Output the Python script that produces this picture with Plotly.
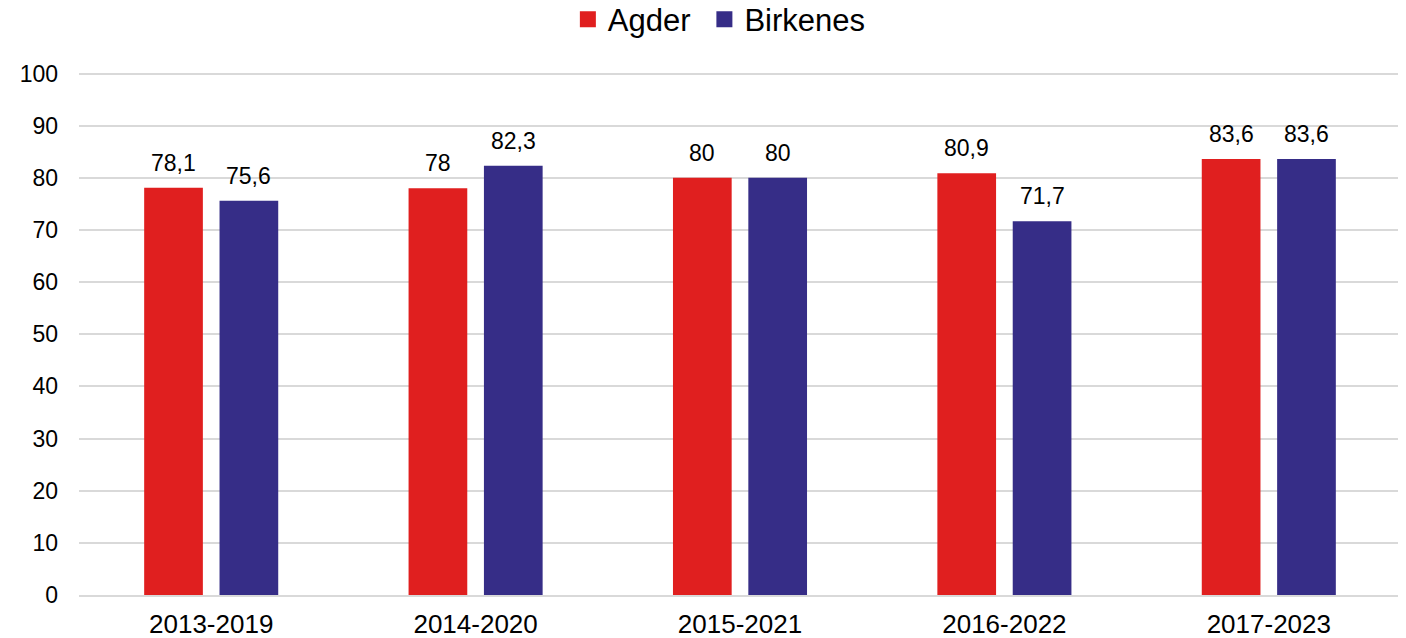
import plotly.graph_objects as go

categories = ["2013-2019", "2014-2020", "2015-2021", "2016-2022", "2017-2023"]
agder = [78.1, 78, 80, 80.9, 83.6]
birkenes = [75.6, 82.3, 80, 71.7, 83.6]
agder_labels = ["78,1", "78", "80", "80,9", "83,6"]
birkenes_labels = ["75,6", "82,3", "80", "71,7", "83,6"]
y_ticks = list(range(0, 101, 10))

FONT = "Liberation Sans, Arial, sans-serif"
RED = "#E01F1F"
BLUE = "#362D87"

fig = go.Figure()
fig.add_trace(go.Bar(name="Agder", x=categories, y=agder,
                     marker=dict(color=RED, line=dict(width=0)), showlegend=False))
fig.add_trace(go.Bar(name="Birkenes", x=categories, y=birkenes,
                     marker=dict(color=BLUE, line=dict(width=0)), showlegend=False))
# legend entries with larger square swatches
for name, col, lg in [("Agder", RED, "legend"), ("Birkenes", BLUE, "legend2")]:
    fig.add_trace(go.Scatter(name=name, x=[None], y=[None], mode="markers",
                             marker=dict(symbol="square", size=17, color=col),
                             showlegend=True, legend=lg))

annotations = []
for cat, v, lab in zip(categories, agder, agder_labels):
    annotations.append(dict(x=cat, y=v, text=lab, xshift=-37.7, yshift=10,
                            showarrow=False, yanchor="bottom", xanchor="center",
                            font=dict(size=23, family=FONT, color="#000000")))
for cat, v, lab in zip(categories, birkenes, birkenes_labels):
    annotations.append(dict(x=cat, y=v, text=lab, xshift=37.7, yshift=10,
                            showarrow=False, yanchor="bottom", xanchor="center",
                            font=dict(size=23, family=FONT, color="#000000")))

legend_common = dict(orientation="h", xanchor="left", y=1.152, yanchor="top",
                     yref="paper", xref="container", font=dict(size=31, family=FONT),
                     itemsizing="trace", bgcolor="rgba(0,0,0,0)")

fig.update_layout(
    width=1406, height=638,
    margin=dict(l=71, r=13, t=64, b=51, autoexpand=False),
    paper_bgcolor="white", plot_bgcolor="white",
    barmode="group", bargap=0.43, bargroupgap=0.221,
    font=dict(family=FONT, size=23, color="#000000"),
    legend=dict(x=0.3982, **legend_common),
    legend2=dict(x=0.4953, **legend_common),
    showlegend=True,
    annotations=annotations,
)
fig.update_yaxes(range=[0, 100.3], tickvals=y_ticks, showgrid=True, gridcolor="#D9D9D9",
                 gridwidth=1.5, zeroline=False, showline=False, ticks="",
                 automargin=False, ticklabelstandoff=20,
                 tickfont=dict(size=23, family=FONT))
fig.update_xaxes(showline=True, linecolor="#D9D9D9", linewidth=1.5, ticks="",
                 automargin=False, tickfont=dict(size=26, family=FONT),
                 ticklabelstandoff=5)

fig.write_html("out.html")
